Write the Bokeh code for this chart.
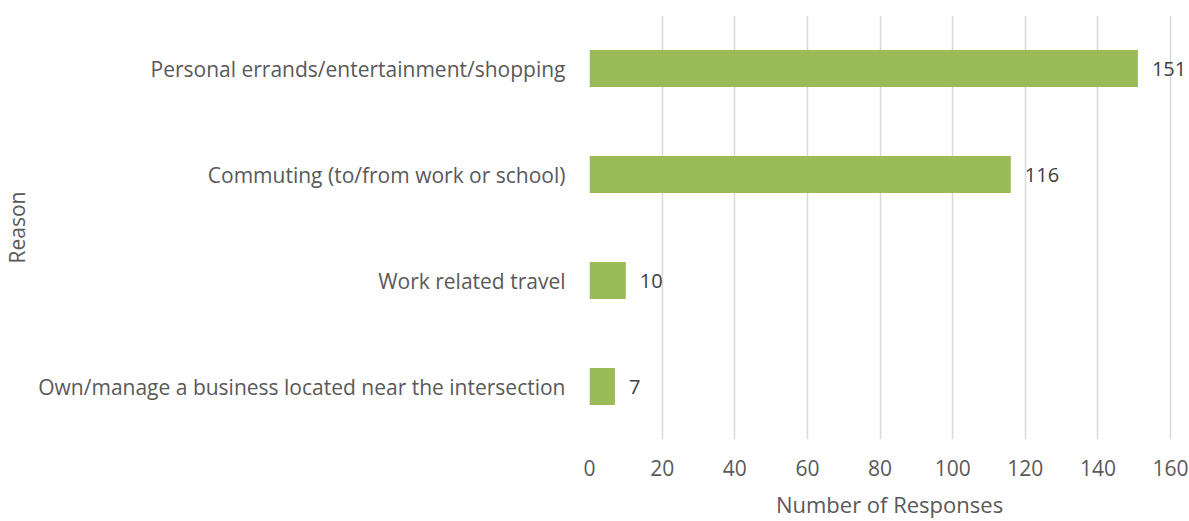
from bokeh.plotting import figure
from bokeh.models import ColumnDataSource, LabelSet, FactorRange, Range1d, FixedTicker
from bokeh.core.properties import value
from bokeh.embed import file_html
from bokeh.resources import INLINE

reasons = [
    "Personal errands/entertainment/shopping",
    "Commuting (to/from work or school)",
    "Work related travel",
    "Own/manage a business located near the intersection",
]
responses = [151, 116, 10, 7]
x_ticks = [0, 20, 40, 60, 80, 100, 120, 140, 160]

FONT = "Open Sans"
TXT = "#595959"

src = ColumnDataSource(dict(reason=reasons, n=responses, lab=[str(v) for v in responses]))

p = figure(width=1189, height=521, output_backend="svg", toolbar_location=None,
           y_range=FactorRange(*reversed(reasons)), x_range=Range1d(0, 165.2),
           min_border_left=588, min_border_right=0, min_border_top=15, min_border_bottom=81)

p.hbar(y="reason", right="n", left=0, height=0.35, source=src,
       fill_color="#9BBB59", line_color=None)

labels = LabelSet(x="n", y="reason", text="lab", source=src, x_offset=14,
                  text_baseline="middle", text_font=value(FONT), text_font_size="20px",
                  text_color="#404040")
p.add_layout(labels)

p.outline_line_color = None
p.background_fill_color = "white"
p.ygrid.grid_line_color = None
p.xgrid.grid_line_color = "#d9d9d9"
p.xgrid.grid_line_width = 1.5
p.xaxis.ticker = FixedTicker(ticks=x_ticks)

for ax in (p.xaxis[0], p.yaxis[0]):
    ax.axis_line_color = None
    ax.major_tick_line_color = None
    ax.minor_tick_line_color = None
    ax.major_label_text_font = FONT
    ax.major_label_text_font_size = "21px"
    ax.major_label_text_color = TXT
    ax.axis_label_text_font = FONT
    ax.axis_label_text_font_size = "21px"
    ax.axis_label_text_color = TXT
    ax.axis_label_text_font_style = "normal"

p.xaxis.axis_label = "Number of Responses"
p.xaxis.axis_label_text_font_size = "22px"
p.xaxis.major_label_standoff = 14
p.xaxis.axis_label_standoff = 10
p.yaxis.axis_label = "Reason"
p.yaxis.major_label_standoff = 18
p.yaxis.axis_label_standoff = 4

open("out.html", "w").write(file_html(p, INLINE))
